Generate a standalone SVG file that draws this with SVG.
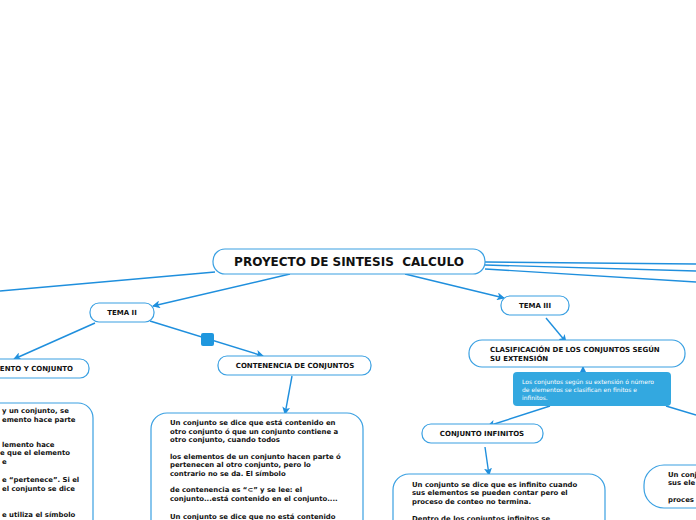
<svg xmlns="http://www.w3.org/2000/svg" width="696" height="520" viewBox="0 0 696 520">
<defs>
<marker id="ah" markerWidth="8" markerHeight="8" refX="7" refY="4" orient="auto" markerUnits="userSpaceOnUse">
<path d="M0,0 L8,4 L0,8 L2,4 Z" fill="#1f8fdd"/>
</marker>
<style>
.node{fill:#fff;stroke:#3aa0e2;stroke-width:1.2}
.c{fill:none;stroke:#1f8fdd;stroke-width:1.4}
.t{font-family:"DejaVu Sans",Verdana,sans-serif;font-weight:bold;fill:#111}
.lbl{font-size:7px;text-anchor:middle}
.body{font-size:6.9px}
.note{font-family:"DejaVu Sans",Verdana,sans-serif;font-size:6px;fill:#fff}
</style>
</defs>
<rect width="696" height="520" fill="#fff"/>
<g id="connectors">
<line class="c" x1="215" y1="272" x2="0" y2="291"/>
<line class="c" x1="290" y1="274" x2="153" y2="306" marker-end="url(#ah)"/>
<line class="c" x1="405" y1="274" x2="504" y2="298" marker-end="url(#ah)"/>
<line class="c" x1="485" y1="262" x2="696" y2="264"/>
<line class="c" x1="485" y1="265" x2="696" y2="271"/>
<line class="c" x1="485" y1="269" x2="696" y2="282"/>
<line class="c" x1="95" y1="323" x2="14" y2="359" marker-end="url(#ah)"/>
<line class="c" x1="150" y1="321" x2="263" y2="356" marker-end="url(#ah)"/>
<rect x="201" y="333" width="13" height="13" rx="2" fill="#1f97de"/>
<line class="c" x1="292" y1="376" x2="285" y2="414" marker-end="url(#ah)"/>
<line class="c" x1="546" y1="318" x2="566" y2="342" marker-end="url(#ah)"/>
<line class="c" x1="583" y1="372" x2="583" y2="367" marker-end="url(#ah)"/>
<line class="c" x1="550" y1="406" x2="488" y2="426" marker-end="url(#ah)"/>
<line class="c" x1="666" y1="406" x2="696" y2="415"/>
<line class="c" x1="485" y1="447" x2="489" y2="475" marker-end="url(#ah)"/>
</g>
<g id="title">
<rect class="node" x="213" y="249" width="272" height="25" rx="12"/>
<text class="t" x="349" y="266" font-size="12" text-anchor="middle" xml:space="preserve">PROYECTO DE SINTESIS  CALCULO</text>
</g>
<g id="tema2">
<rect class="node" x="90" y="303" width="64" height="19" rx="9"/>
<text class="t lbl" x="122" y="315">TEMA II</text>
</g>
<g id="elemento">
<rect class="node" x="-40" y="359" width="129" height="19" rx="9"/>
<text class="t" x="73" y="371" font-size="7" text-anchor="end">ELEMENTO Y CONJUNTO</text>
</g>
<g id="elemento-text">
<rect class="node" x="-40" y="403" width="133" height="140" rx="15"/>
<g class="t body">
<text x="2" y="413">y un conjunto, se</text>
<text x="2" y="422">emento hace parte</text>
<text x="2" y="447">lemento hace</text>
<text x="0" y="455">e que el elemento</text>
<text x="2" y="464">e</text>
<text x="2" y="482">e “pertenece”. Si el</text>
<text x="2" y="491">el conjunto se dice</text>
<text x="2" y="517">e utiliza el símbolo</text>
</g>
</g>
<g id="contenencia">
<rect class="node" x="218" y="356" width="153" height="19" rx="9"/>
<text class="t lbl" x="295" y="368">CONTENENCIA DE CONJUNTOS</text>
</g>
<g id="contenencia-text">
<rect class="node" x="151" y="413" width="212" height="130" rx="16"/>
<g class="t body">
<text x="170" y="425">Un conjunto se dice que está contenido en</text>
<text x="170" y="434">otro conjunto ó que un conjunto contiene a</text>
<text x="170" y="442">otro conjunto, cuando todos</text>
<text x="170" y="459">los elementos de un conjunto hacen parte ó</text>
<text x="170" y="467">pertenecen al otro conjunto, pero lo</text>
<text x="170" y="476">contrario no se da. El símbolo</text>
<text x="170" y="492">de contenencia es “⊂” y se lee: el</text>
<text x="170" y="501">conjunto...está contenido en el conjunto....</text>
<text x="170" y="519">Un conjunto se dice que no está contenido</text>
</g>
</g>
<g id="tema3">
<rect class="node" x="501" y="296" width="68" height="19" rx="9"/>
<text class="t lbl" x="535" y="308">TEMA III</text>
</g>
<g id="clasificacion">
<rect class="node" x="469" y="340" width="216" height="27" rx="13"/>
<text class="t" x="490" y="352" font-size="7">CLASIFICACIÓN DE LOS CONJUNTOS SEGÚN</text>
<text class="t" x="490" y="361" font-size="7">SU EXTENSIÓN</text>
</g>
<g id="nota">
<rect x="513" y="372" width="158" height="34" rx="4" fill="#33a8e0"/>
<text class="note" x="522" y="384">Los conjuntos según su extensión ó número</text>
<text class="note" x="522" y="392">de elementos se clasifican en finitos e</text>
<text class="note" x="522" y="400">infinitos.</text>
</g>
<g id="infinitos">
<rect class="node" x="422" y="424" width="121" height="19" rx="9"/>
<text class="t lbl" x="482" y="436">CONJUNTO INFINITOS</text>
</g>
<g id="infinitos-text">
<rect class="node" x="393" y="474" width="212" height="70" rx="16"/>
<g class="t body">
<text x="412" y="487">Un conjunto se dice que es infinito cuando</text>
<text x="412" y="495">sus elementos se pueden contar pero el</text>
<text x="412" y="504">proceso de conteo no termina.</text>
<text x="412" y="521">Dentro de los conjuntos infinitos se</text>
</g>
</g>
<g id="finitos-text">
<rect class="node" x="644" y="465" width="100" height="43" rx="20"/>
<g class="t body">
<text x="668" y="477">Un conj</text>
<text x="668" y="485">sus ele</text>
<text x="668" y="502">proces</text>
</g>
</g>
</svg>
